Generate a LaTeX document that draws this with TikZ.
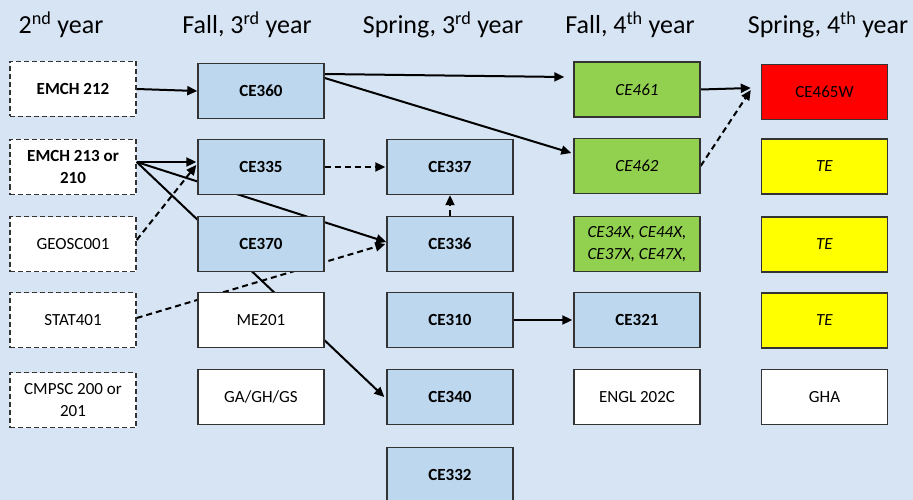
\documentclass[tikz,border=0pt]{standalone}
\usepackage{fontspec}
\setmainfont{Carlito}
\usetikzlibrary{arrows.meta,positioning}
\pgfdeclarelayer{back}
\pgfdeclarelayer{edges}
\pgfsetlayers{back,edges,main}
\definecolor{bgblue}{HTML}{D6E4F4}
\definecolor{boxblue}{HTML}{BDD7EE}
\definecolor{boxgreen}{HTML}{92D050}
\definecolor{boxred}{HTML}{FF0000}
\definecolor{boxyellow}{HTML}{FFFF00}
\definecolor{edgegray}{HTML}{333333}
\tikzset{
  course/.style={draw=edgegray, line width=1.4pt, minimum width=126pt, minimum height=55pt,
    inner sep=2pt, align=center, font=\fontsize{17}{22}\selectfont},
  prereq/.style={course, fill=white, dash pattern=on 5pt off 3pt},
  bluebox/.style={course, fill=boxblue, font=\fontsize{17}{22}\selectfont\bfseries},
  whitebox/.style={course, fill=white},
  greenbox/.style={course, fill=boxgreen, font=\fontsize{17}{22}\selectfont\itshape},
  redbox/.style={course, fill=boxred},
  yellowbox/.style={course, fill=boxyellow, font=\fontsize{17}{22}\selectfont\itshape},
  header/.style={anchor=base, font=\fontsize{26}{30}\selectfont},
  arr/.style={line width=2pt, -{Triangle[length=10pt,width=9pt]}},
  darr/.style={arr, dash pattern=on 6pt off 4pt},
}
\begin{document}
\begin{tikzpicture}[x=1pt,y=-1pt]
\useasboundingbox (0,0) rectangle (913,500);
\begin{pgfonlayer}{back}
\fill[bgblue] (0,0) rectangle (913,500);
\end{pgfonlayer}

% headers
\node[header] (h1) at (61,34) {2\textsuperscript{nd} year};
\node[header] (h2) at (247,34) {Fall, 3\textsuperscript{rd} year};
\node[header] (h3) at (443,34) {Spring, 3\textsuperscript{rd} year};
\node[header] (h4) at (630,34) {Fall, 4\textsuperscript{th} year};
\node[header] (h5) at (828,34) {Spring, 4\textsuperscript{th} year};

% column 1
\node[prereq, font=\fontsize{17}{22}\selectfont\bfseries] (emch212) at (73,89) {EMCH 212};
\node[prereq, font=\fontsize{17}{22}\selectfont\bfseries] (emch213) at (73,167) {EMCH 213 or\\210};
\node[prereq] (geosc) at (73,244) {GEOSC001};
\node[prereq] (stat) at (73,320) {STAT401};
\node[prereq] (cmpsc) at (73,400) {CMPSC 200 or\\201};

% column 2
\node[bluebox] (ce360) at (261,91) {CE360};
\node[bluebox] (ce335) at (261,167) {CE335};
\node[bluebox] (ce370) at (261,244) {CE370};
\node[whitebox] (me201) at (261,320) {ME201};
\node[whitebox] (gagh) at (261,397) {GA/GH/GS};

% column 3
\node[bluebox] (ce337) at (450,167) {CE337};
\node[bluebox] (ce336) at (450,244) {CE336};
\node[bluebox] (ce310) at (450,320) {CE310};
\node[bluebox] (ce340) at (450,397) {CE340};
\node[bluebox] (ce332) at (450,475) {CE332};

% column 4
\node[greenbox] (ce461) at (637,89.5) {CE461};
\node[greenbox] (ce462) at (637,166) {CE462};
\node[greenbox] (ce34x) at (637,244) {CE34X, CE44X,\\CE37X, CE47X,};
\node[bluebox] (ce321) at (637,320) {CE321};
\node[whitebox] (engl) at (637,397) {ENGL 202C};

% column 5
\node[redbox] (ce465w) at (824.5,92) {CE465W};
\node[yellowbox] (te1) at (824.5,166.5) {TE};
\node[yellowbox] (te2) at (824.5,244.5) {TE};
\node[yellowbox] (te3) at (824.5,320.5) {TE};
\node[whitebox] (gha) at (824.5,397) {GHA};

\coordinate (e3) at ([yshift=5pt]emch213.east);

\begin{pgfonlayer}{edges}
\draw[arr] (emch212.east) -- (ce360.west);
\draw[arr] ([yshift=17pt]ce360.east) -- ([yshift=12.5pt,xshift=-9pt]ce461.west);
\draw[arr] ([yshift=13pt]ce360.east) -- ([yshift=13pt,xshift=-2pt]ce462.west);
\draw[arr] (ce461.east) -- ([xshift=-10pt,yshift=4pt]ce465w.west);
\draw[darr] (ce462.east) -- ([xshift=-10pt,yshift=2pt]ce465w.west);
\draw[arr] (e3) -- ([yshift=5pt,xshift=-1pt]ce335.west);
\draw[arr] (e3) -- ([yshift=2pt]ce336.west);
\draw[arr] (e3) -- ([xshift=-2pt]ce340.west);
\draw[darr] ([yshift=4pt]geosc.east) -- ([yshift=2pt,xshift=-1pt]ce335.west);
\draw[darr] ([yshift=2pt]stat.east) -- ([xshift=-1pt]ce336.west);
\draw[darr] (ce335.east) -- ([xshift=-1pt]ce337.west);
\draw[darr] (ce336.north) -- (ce337.south);
\draw[arr] (ce310.east) -- ([xshift=-1pt]ce321.west);
\end{pgfonlayer}
\end{tikzpicture}
\end{document}
